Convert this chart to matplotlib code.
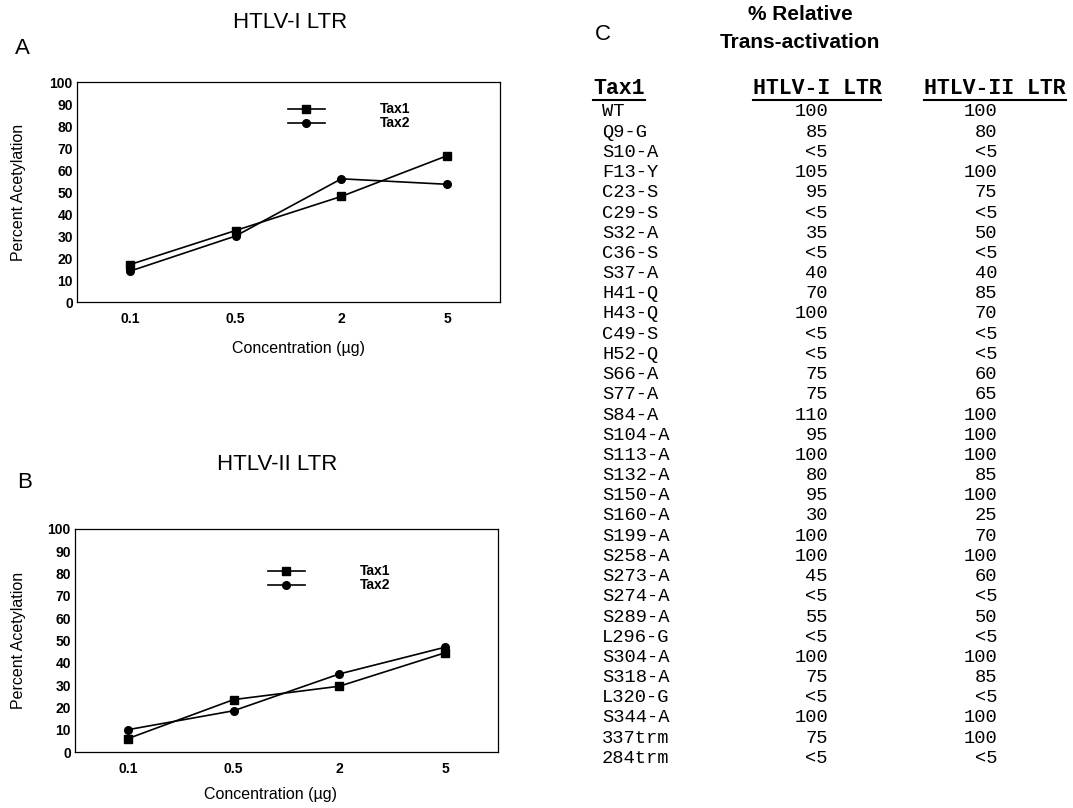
import numpy as np
import matplotlib
matplotlib.use('Agg')
import matplotlib.pyplot as plt
from matplotlib.lines import Line2D

plt.rcParams['font.family'] = ['Liberation Sans', 'DejaVu Sans']

# data
conc = ['0.1', '0.5', '2', '5']
a_tax1 = [17, 32.5, 48, 66.5]
a_tax2 = [14, 30, 56, 53.5]
b_tax1 = [6, 23.5, 29.5, 44.5]
b_tax2 = [10, 18.5, 35, 47]

mutants = ['WT', 'Q9-G', 'S10-A', 'F13-Y', 'C23-S', 'C29-S', 'S32-A', 'C36-S',
           'S37-A', 'H41-Q', 'H43-Q', 'C49-S', 'H52-Q', 'S66-A', 'S77-A', 'S84-A',
           'S104-A', 'S113-A', 'S132-A', 'S150-A', 'S160-A', 'S199-A', 'S258-A',
           'S273-A', 'S274-A', 'S289-A', 'L296-G', 'S304-A', 'S318-A', 'L320-G',
           'S344-A', '337trm', '284trm']
htlv1 = ['100', '85', '<5', '105', '95', '<5', '35', '<5', '40', '70', '100', '<5',
         '<5', '75', '75', '110', '95', '100', '80', '95', '30', '100', '100', '45',
         '<5', '55', '<5', '100', '75', '<5', '100', '75', '<5']
htlv2 = ['100', '80', '<5', '100', '75', '<5', '50', '<5', '40', '85', '70', '<5',
         '<5', '60', '65', '100', '100', '100', '85', '100', '25', '70', '100', '60',
         '<5', '50', '<5', '100', '85', '<5', '100', '100', '<5']

W, H = 1073, 808
fig = plt.figure(figsize=(W / 100, H / 100), dpi=100)


def px(x):
    return x / W


def py(y):
    return 1 - y / H


def panel(rect, t1, t2, leg_x, leg_y, xlab_x, xlab_y):
    l, t, r, b = rect
    ax = fig.add_axes([px(l), py(b), px(r - l), (b - t) / H])
    x = np.arange(len(conc))
    ax.plot(x, t1, '-s', color='black', lw=1.2, ms=5.5)
    ax.plot(x, t2, '-o', color='black', lw=1.2, ms=5.5)
    ax.set_xlim(-0.5, 3.5)
    ax.set_ylim(0, 100)
    ax.set_yticks(range(0, 101, 10))
    ax.set_xticks(x)
    ax.set_xticklabels(conc)
    ax.tick_params(length=0, labelsize=10)
    ax.tick_params(axis='y', pad=3)
    ax.tick_params(axis='x', pad=7)
    for lab in ax.get_xticklabels() + ax.get_yticklabels():
        lab.set_fontweight('bold')
    for s in ax.spines.values():
        s.set_linewidth(0.9)
    ax.set_ylabel('Percent Acetylation', fontsize=11.5)
    ax.yaxis.set_label_coords((26 - l) / (r - l), 0.5)
    ax.set_xlabel('Concentration (µg)', fontsize=11.5, va='center')
    ax.xaxis.set_label_coords((xlab_x - l) / (r - l), -(xlab_y - b) / (b - t))
    # legend drawn by hand
    for k, (mk, name) in enumerate([('s', 'Tax1'), ('o', 'Tax2')]):
        yy = leg_y + 14 * k
        fig.add_artist(Line2D([px(leg_x), px(leg_x + 37)], [py(yy), py(yy)],
                              color='black', lw=1.2))
        fig.add_artist(Line2D([px(leg_x + 18)], [py(yy)], marker=mk,
                              color='black', ms=5.5))
        fig.text(px(leg_x + 92), py(yy), name, fontsize=10, fontweight='bold',
                 va='center', ha='left')
    return ax


panel((77, 82, 500, 302), a_tax1, a_tax2, 288, 109, 298, 348)
panel((75, 529, 498, 752), b_tax1, b_tax2, 268, 571, 271, 795)

fig.text(px(22), py(48), 'A', fontsize=16, ha='center', va='center')
fig.text(px(290), py(22), 'HTLV-I LTR', fontsize=16, ha='center', va='center')
fig.text(px(25), py(483), 'B', fontsize=16, ha='center', va='center')
fig.text(px(277), py(465), 'HTLV-II LTR', fontsize=16, ha='center', va='center')

# panel C table
fig.text(px(603), py(35), 'C', fontsize=16, ha='center', va='center')
fig.text(px(800), py(15), '% Relative', fontsize=15, fontweight='bold',
         ha='center', va='center')
fig.text(px(800), py(42), 'Trans-activation', fontsize=15, fontweight='bold',
         ha='center', va='center')

mono = ['Liberation Mono', 'DejaVu Sans Mono']
headers = [fig.text(px(593), py(88), 'Tax1', ha='left'),
           fig.text(px(817), py(88), 'HTLV-I LTR', ha='center'),
           fig.text(px(995), py(88), 'HTLV-II LTR', ha='center')]
for h in headers:
    h.set_family(mono)
    h.set_fontsize(15.5)
    h.set_fontweight('bold')
    h.set_va('center')

y0, dy = 112, 20.2
for i, name in enumerate(mutants):
    yy = py(y0 + i * dy)
    fig.text(px(602), yy, name, family=mono, fontsize=13.5, va='center', ha='left')
    fig.text(px(828), yy, htlv1[i], family=mono, fontsize=13.5, va='center', ha='right')
    fig.text(px(997), yy, htlv2[i], family=mono, fontsize=13.5, va='center', ha='right')

# underline the headers
fig.canvas.draw()
rend = fig.canvas.get_renderer()
for h in headers:
    bb = h.get_window_extent(rend)
    uy = (bb.y0 - 1) / fig.bbox.height
    fig.add_artist(Line2D([bb.x0 / fig.bbox.width, bb.x1 / fig.bbox.width],
                          [uy, uy], color='black', lw=1.5))

fig.savefig('out.png', dpi=100)
